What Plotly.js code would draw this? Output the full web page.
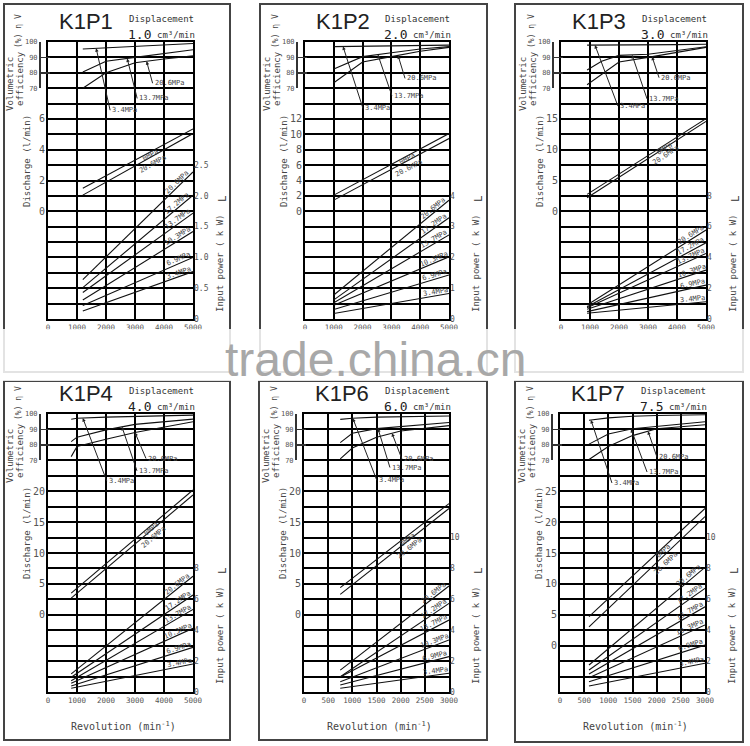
<!DOCTYPE html>
<html><head><meta charset="utf-8">
<script src="https://cdn.plot.ly/plotly-3.0.1.min.js"></script>
<style>html,body{margin:0;padding:0;background:#fff}#chart{width:750px;height:746px}</style>
</head><body><div id="chart"></div>
<script>
// ---------------- DATA ----------------
const panelNames = ['K1P1','K1P2','K1P3','K1P4','K1P6','K1P7'];
const displacements = ['1.0','2.0','3.0','4.0','6.0','7.5'];
const revTicks5000 = [0,1000,2000,3000,4000,5000];
const revTicks3000 = [0,500,1000,1500,2000,2500,3000];
const effTicks = [70,80,90,100];
const effPressures = ['3.4MPa','13.7MPa','20.6MPa'];
const disPressures = ['0MPa','20.6MPa'];
const powPressures = ['20.6MPa','17.2MPa','13.7MPa','10.3MPa','6.9MPa','3.4MPa'];

const K1P1_disTicks = [0,2,4,6];
const K1P2_disTicks = [0,2,4,6,8,10,12];
const K1P3_disTicks = [0,5,10,15];
const K1P4_disTicks = [0,5,10,15,20];
const K1P6_disTicks = [0,5,10,15,20];
const K1P7_disTicks = [0,5,10,15,20,25];
const K1P1_powTicks = ['0','0.5','1.0','1.5','2.0','2.5'];
const K1P2_powTicks = ['0','1','2','3','4'];
const K1P3_powTicks = ['0','2','4','6','8'];
const K1P4_powTicks = ['0','2','4','6','8'];
const K1P6_powTicks = ['0','2','4','6','8','10'];
const K1P7_powTicks = ['0','2','4','6','8','10'];

// K1P1
const K1P1_effRpm = [1200,2000,3000,4000,5000];
const K1P1_eff34  = [95.5,96.3,97.2,98.1,99.0];
const K1P1_eff137 = [80.5,87.5,90.0,92.5,95.0];
const K1P1_eff206 = [70.0,80.0,86.5,89.0,91.0];
const K1P1_disRpm = [1200,5000];
const K1P1_dis0   = [1.5,5.35];
const K1P1_dis206 = [1.05,5.05];
const K1P1_powRpm = [1200,5000];
const K1P1_powStart = [0.64,0.51,0.43,0.31,0.22,0.13];
const K1P1_powEnd   = [2.39,2.01,1.72,1.42,1.00,0.77];
// K1P2
const K1P2_effRpm = [1000,2000,3000,4000,5000];
const K1P2_eff34  = [97.0,97.3,97.6,97.8,98.0];
const K1P2_eff137 = [82.5,90.5,93.0,95.5,97.0];
const K1P2_eff206 = [73.5,87.0,90.5,94.0,96.5];
const K1P2_disRpm = [1000,5000];
const K1P2_dis0   = [2.1,10.1];
const K1P2_dis206 = [1.45,9.45];
const K1P2_powRpm = [1000,5000];
const K1P2_powStart = [0.78,0.62,0.53,0.45,0.31,0.18];
const K1P2_powEnd   = [3.86,3.29,2.73,2.02,1.43,0.83];
// K1P3
const K1P3_effRpm = [900,1400,2000,3000,4000,5000];
const K1P3_eff34  = [98.0,98.0,98.1,98.2,98.3,98.5];
const K1P3_eff137 = [81.8,87.5,91.3,92.0,94.5,96.9];
const K1P3_eff206 = [72.2,79.0,87.0,90.0,93.3,96.5];
const K1P3_disRpm = [900,5000];
const K1P3_dis0   = [2.75,15.05];
const K1P3_dis206 = [2.2,14.6];
const K1P3_powRpm = [900,5000];
const K1P3_powStart = [0.91,0.80,0.73,0.63,0.48,0.37];
const K1P3_powEnd   = [5.78,4.95,4.26,3.18,2.20,1.12];
// K1P4
const K1P4_effRpm = [800,1000,2000,3000,5000];
const K1P4_eff34  = [96.6,97.2,98.0,98.5,99.3];
const K1P4_eff137 = [82.1,85.0,89.7,93.3,96.7];
const K1P4_eff206 = [72.4,79.0,83.7,88.0,95.0];
const K1P4_disRpm = [800,5000];
const K1P4_dis0   = [3.5,20.2];
const K1P4_dis206 = [2.7,19.4];
const K1P4_powRpm = [800,5000];
const K1P4_powStart = [1.17,0.95,0.73,0.56,0.39,0.24];
const K1P4_powEnd   = [7.50,6.28,5.35,4.12,2.89,1.81];
// K1P6
const K1P6_effRpm = [750,1000,1500,2000,3000];
const K1P6_eff34  = [96.5,97.2,98.0,98.3,98.7];
const K1P6_eff137 = [81.5,87.5,90.5,92.0,94.5];
const K1P6_eff206 = [71.0,78.0,85.0,89.0,92.5];
const K1P6_disRpm = [750,3000];
const K1P6_dis0   = [4.4,18.0];
const K1P6_dis206 = [3.3,17.2];
const K1P6_powRpm = [750,3000];
const K1P6_powStart = [1.42,0.99,0.97,0.67,0.45,0.24];
const K1P6_powEnd   = [6.86,5.74,4.66,3.37,2.29,1.21];
// K1P7
const K1P7_effRpm = [600,1000,1500,2000,3000];
const K1P7_eff34  = [96.0,97.5,98.5,99.0,99.5];
const K1P7_eff137 = [80.5,87.0,90.5,92.0,95.0];
const K1P7_eff206 = [70.5,79.0,86.0,90.5,93.0];
const K1P7_disRpm = [600,3000];
const K1P7_dis0   = [4.7,22.2];
const K1P7_dis206 = [3.05,20.9];
const K1P7_powRpm = [600,3000];
const K1P7_powStart = [1.75,1.42,1.17,0.93,0.67,0.39];
const K1P7_powEnd   = [8.07,6.71,5.52,4.34,3.04,1.86];

// ---------------- LAYOUT / STYLE ----------------
const W = 750, H = 746, ROWS = 18;
const revTicks = [revTicks5000,revTicks5000,revTicks5000,revTicks5000,revTicks3000,revTicks3000];
const disTicks = [K1P1_disTicks,K1P2_disTicks,K1P3_disTicks,K1P4_disTicks,K1P6_disTicks,K1P7_disTicks];
const powTicks = [K1P1_powTicks,K1P2_powTicks,K1P3_powTicks,K1P4_powTicks,K1P6_powTicks,K1P7_powTicks];
const effRpm = [K1P1_effRpm,K1P2_effRpm,K1P3_effRpm,K1P4_effRpm,K1P6_effRpm,K1P7_effRpm];
const effSeries = [[K1P1_eff34,K1P1_eff137,K1P1_eff206],[K1P2_eff34,K1P2_eff137,K1P2_eff206],
  [K1P3_eff34,K1P3_eff137,K1P3_eff206],[K1P4_eff34,K1P4_eff137,K1P4_eff206],
  [K1P6_eff34,K1P6_eff137,K1P6_eff206],[K1P7_eff34,K1P7_eff137,K1P7_eff206]];
const disRpm = [K1P1_disRpm,K1P2_disRpm,K1P3_disRpm,K1P4_disRpm,K1P6_disRpm,K1P7_disRpm];
const disSeries = [[K1P1_dis0,K1P1_dis206],[K1P2_dis0,K1P2_dis206],[K1P3_dis0,K1P3_dis206],
  [K1P4_dis0,K1P4_dis206],[K1P6_dis0,K1P6_dis206],[K1P7_dis0,K1P7_dis206]];
const powRpm = [K1P1_powRpm,K1P2_powRpm,K1P3_powRpm,K1P4_powRpm,K1P6_powRpm,K1P7_powRpm];
const powStart = [K1P1_powStart,K1P2_powStart,K1P3_powStart,K1P4_powStart,K1P6_powStart,K1P7_powStart];
const powEnd = [K1P1_powEnd,K1P2_powEnd,K1P3_powEnd,K1P4_powEnd,K1P6_powEnd,K1P7_powEnd];

// axis scale settings (rows of the grid)
const xMaxes = [5000,5000,5000,5000,3000,3000];
const disZeroRow = [7,7,7,5,5,3];
const disPerRow = [1,2,2.5,2.5,2.5,2.5];
const powPerRow = [0.25,0.5,1,1,1,1];
// pixel boxes of each grid: [left,right,top,bottom]
const gridBox = [[48,193,42,319],[305,449,42,319],[561,706,42,319],[48,193,414,692],[304,449,414,692],[560,705,414,692]];
const frameBox = [[4,230,4,372],[260,487,4,372],[515,743,4,372],[4,230,381,740],[259,487,381,740],[515,743,381,742]];
// arrow label placement (head rpm, tail offsets px) for 3.4 / 13.7 / 20.6
const arrowHeadRpm = [[1660,2730,3400],[1320,2530,3230],[1170,2450,3140],[1200,2550,3000],[1010,1530,1820],[640,1470,1820]];
const arrowAx = [[14,10,6],[20,14,7],[23,15,7],[24,15,11],[24,12,10],[21,16,9]];
const arrowAy = [[62,40,22],[62,41,23],[61,44,21],[63,44,26],[62,39,26],[63,43,26]];

const MONO = '"DejaVu Sans Mono", monospace';
const SANS = '"Liberation Sans", Arial, sans-serif';
const INK = '#111';
const TXT = '#555';
const px = v => v / W;
const py = v => 1 - v / H;

function interp(xs, ys, x) {
  for (let i = 0; i < xs.length - 1; i++) {
    if (x >= xs[i] && x <= xs[i+1]) return ys[i] + (ys[i+1]-ys[i])*(x-xs[i])/(xs[i+1]-xs[i]);
  }
  return x < xs[0] ? ys[0] : ys[ys.length-1];
}

const traces = [];
const layout = {
  width: W, height: H, margin: {l:0,r:0,t:0,b:0}, showlegend: false,
  paper_bgcolor: '#fff', plot_bgcolor: 'rgba(0,0,0,0)',
  annotations: [], shapes: []
};
function note(xp, yp, text, font, extra) {
  layout.annotations.push(Object.assign({x: px(xp), y: py(yp), xref: 'paper', yref: 'paper', text: text,
    showarrow: false, xanchor: 'center', yanchor: 'middle', font: font}, extra || {}));
}

panelNames.forEach((name, i) => {
  const [gx0, gx1, gy0, gy1] = gridBox[i];
  const gw = gx1 - gx0, gh = gy1 - gy0, rowH = gh / ROWS;
  const xid = i === 0 ? 'x' : 'x' + (i + 1);
  const xkey = i === 0 ? 'xaxis' : 'xaxis' + (i + 1);
  const yn = k => 4 * i + k;
  const yid = k => yn(k) === 1 ? 'y' : 'y' + yn(k);
  const ykey = k => yn(k) === 1 ? 'yaxis' : 'yaxis' + yn(k);
  const xMax = xMaxes[i];
  const disRange = [-disZeroRow[i] * disPerRow[i], (ROWS - disZeroRow[i]) * disPerRow[i]];
  const powRange = [0, ROWS * powPerRow[i]];

  layout[xkey] = {
    domain: [px(gx0), px(gx1)], range: [0, xMax], anchor: yid(1),
    tickvals: revTicks[i], ticktext: revTicks[i].map(String), ticks: '',
    showgrid: true, gridcolor: '#000', gridwidth: 2, zeroline: false,
    showline: true, mirror: true, linecolor: '#000', linewidth: 2,
    tickfont: {family: MONO, size: 7.5, color: TXT}, fixedrange: true
  };
  layout[ykey(1)] = {
    domain: [py(gy1), py(gy0)], range: [0, ROWS], anchor: xid, dtick: 1, tick0: 0,
    showgrid: true, gridcolor: '#000', gridwidth: 2, zeroline: false,
    showline: true, mirror: true, linecolor: '#000', linewidth: 2,
    showticklabels: false, ticks: '', fixedrange: true
  };
  layout[ykey(2)] = {
    domain: [py(gy0 + 3 * rowH), py(gy0)], range: [70, 100], anchor: 'free', position: px(gx0 - 9),
    tickvals: effTicks, ticktext: effTicks.map(String), ticks: 'inside', ticklen: 9, tickwidth: 1.5,
    tickcolor: '#333', showline: true, linecolor: '#333', linewidth: 1.5,
    showgrid: false, zeroline: false, tickfont: {family: MONO, size: 7, color: TXT}, fixedrange: true
  };
  layout[ykey(3)] = {
    overlaying: yid(1), range: disRange, anchor: 'free', position: px(gx0 - 3), side: 'left',
    tickvals: disTicks[i], ticktext: disTicks[i].map(String), ticks: '',
    showgrid: false, zeroline: false, showline: false,
    tickfont: {family: MONO, size: 10, color: TXT}, fixedrange: true
  };
  layout[ykey(4)] = {
    overlaying: yid(1), range: powRange, anchor: 'free', position: px(gx1), side: 'right',
    tickvals: powTicks[i].map(Number), ticktext: powTicks[i], ticks: '',
    showgrid: false, zeroline: false, showline: false,
    tickfont: {family: MONO, size: 8, color: TXT}, fixedrange: true
  };

  traces.push({x: [0], y: [0], xaxis: xid, yaxis: yid(1), mode: 'markers', marker: {opacity: 0}, hoverinfo: 'skip'});

  const lineStyle = {color: INK, width: 1.1};
  effSeries[i].forEach((ser, k) => {
    traces.push({x: effRpm[i], y: ser, xaxis: xid, yaxis: yid(2), mode: 'lines', line: lineStyle, name: effPressures[k], hoverinfo: 'skip'});
    const hx = arrowHeadRpm[i][k];
    layout.annotations.push({
      x: hx, y: interp(effRpm[i], ser, hx), xref: xid, yref: yid(2),
      text: effPressures[k], showarrow: true, ax: arrowAx[i][k], ay: arrowAy[i][k],
      arrowhead: 2, arrowsize: 0.7, arrowwidth: 1, arrowcolor: '#222', standoff: 0,
      xanchor: 'left', yanchor: 'middle', font: {family: MONO, size: 7, color: '#444'}
    });
  });
  const disYpx = gh / (disRange[1] - disRange[0]);
  const xpx = gw / xMax;
  disSeries[i].forEach((ser, k) => {
    traces.push({x: disRpm[i], y: ser, xaxis: xid, yaxis: yid(3), mode: 'lines', line: lineStyle, name: disPressures[k], hoverinfo: 'skip'});
    const r = disRpm[i];
    const ang = Math.atan2((ser[1]-ser[0]) * disYpx, (r[1]-r[0]) * xpx);
    const lx = 0.7 * xMax;
    const d = k === 0 ? -3 : -7;
    layout.annotations.push({
      x: lx, y: interp(r, ser, lx), xref: xid, yref: yid(3), text: disPressures[k], showarrow: false,
      xanchor: 'center', yanchor: 'middle',
      textangle: -ang * 180 / Math.PI, xshift: -d * Math.sin(ang), yshift: d * Math.cos(ang),
      font: {family: MONO, size: 7, color: '#444'}
    });
  });
  const powYpx = gh / (powRange[1] - powRange[0]);
  powPressures.forEach((p, k) => {
    const r = powRpm[i];
    const ys = [powStart[i][k], powEnd[i][k]];
    traces.push({x: r, y: ys, xaxis: xid, yaxis: yid(4), mode: 'lines', line: lineStyle, name: p, hoverinfo: 'skip'});
    const ang = Math.atan2((ys[1]-ys[0]) * powYpx, (r[1]-r[0]) * xpx);
    const lx = 0.91 * xMax;
    const d = 4;
    layout.annotations.push({
      x: lx, y: interp(r, ys, lx), xref: xid, yref: yid(4), text: p, showarrow: false,
      xanchor: 'center', yanchor: 'middle',
      textangle: -ang * 180 / Math.PI, xshift: -d * Math.sin(ang), yshift: d * Math.cos(ang),
      font: {family: MONO, size: 7, color: '#444'}
    });
  });

  const small = {family: MONO, size: 9, color: '#444'};
  note(gx0 + 38, gy0 - 21, name, {family: SANS, size: 22, color: '#222'});
  note(gx1 - 32, gy0 - 23, 'Displacement', {family: MONO, size: 9, color: '#333'});
  note(gx1 - 40, gy0 - 8, displacements[i], {family: MONO, size: 13, color: '#222'}, {xanchor: 'right'});
  note(gx1 - 38, gy0 - 7, 'cm³/min', {family: MONO, size: 9, color: '#333'}, {xanchor: 'left'});
  note(gx0 - 38, gy0 + 42, 'Volumetric', small, {textangle: -90});
  note(gx0 - 28, gy0 + 37, 'efficiency', small, {textangle: -90});
  note(gx0 - 30, gy0 - 11, '(%) η V', {family: MONO, size: 8, color: '#444'}, {textangle: -90});
  note(gx0 - 21, gy0 + 119, 'Discharge (l/min)', small, {textangle: -90});
  note(gx1 + 27, gy0 + 221, 'Input power ( k W)', small, {textangle: -90});
  note(gx1 + 29, gy0 + 157, 'L', {family: MONO, size: 11, color: '#333'}, {textangle: -90});
  if (gy0 > 300) {
    note(gx0 + 75, gy1 + 34, 'Revolution (min<sup>-1</sup>)', {family: MONO, size: 10, color: '#444'});
  }
  const [fx0, fx1, fy0, fy1] = frameBox[i];
  layout.shapes.push({type: 'rect', xref: 'paper', yref: 'paper', x0: px(fx0), x1: px(fx1), y0: py(fy1), y1: py(fy0),
    line: {color: '#444', width: 2}, layer: 'below'});
});

// watermark band
layout.shapes.push({type: 'rect', xref: 'paper', yref: 'paper', x0: 0, x1: 1, y0: py(381), y1: py(329),
  fillcolor: 'rgba(255,255,255,0.85)', line: {width: 0}, layer: 'above'});
note(376, 359, 'trade.china.cn', {family: SANS, size: 48, color: '#a8a8a8'});

Plotly.newPlot('chart', traces, layout, {staticPlot: true, displayModeBar: false});
</script>
</body></html>
